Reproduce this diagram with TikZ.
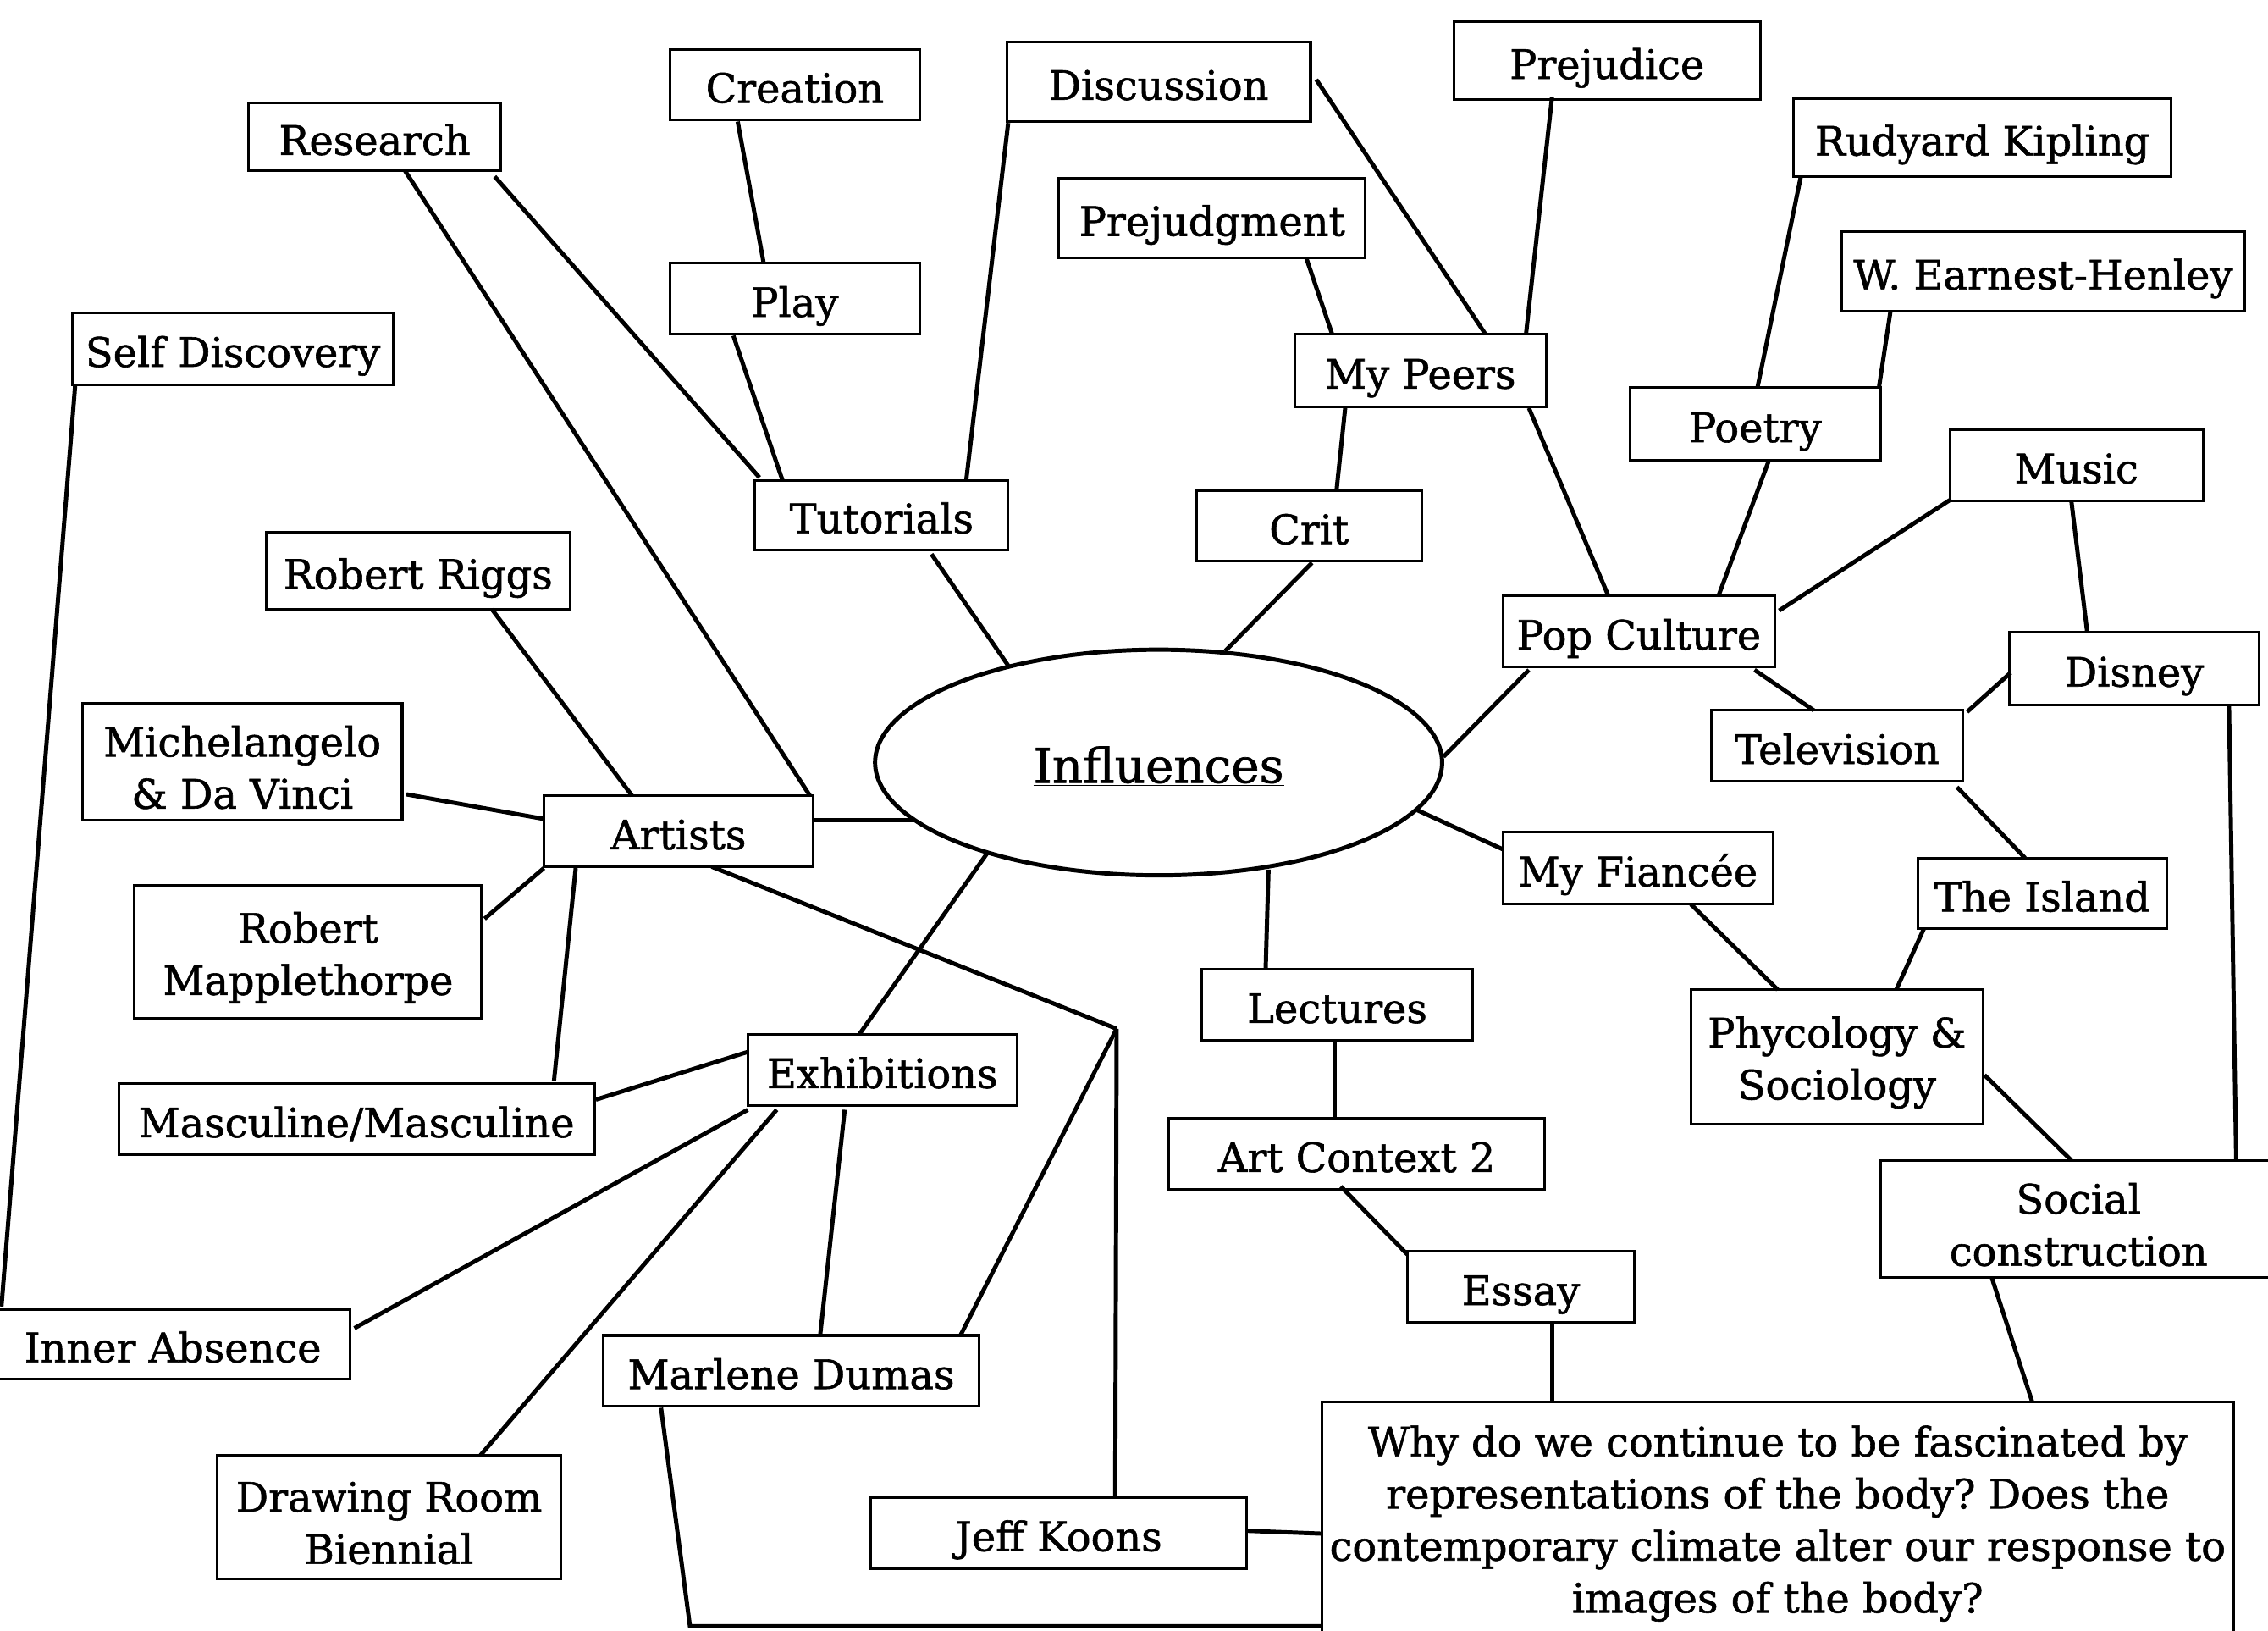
\documentclass[tikz,border=0pt]{standalone}
\usepackage{fontspec}
\setmainfont[FakeBold=1.2]{DejaVu Serif}
\usetikzlibrary{shapes.geometric,calc}
\newcommand\mystrut{\rule{0pt}{29pt}}
\frenchspacing
\begin{document}
\begin{tikzpicture}[x=1pt,y=-1pt,
  box/.style={draw, line width=1.8pt, inner sep=0pt, align=center, font=\fontsize{28}{36}\selectfont},
  b1/.style={box, text height=25.5pt, text depth=0.5pt},
  b2/.style={box},
  link/.style={line width=2.9pt},
]
\useasboundingbox[fill=white] (0,0) rectangle (1568,1127);
\node[b1, minimum width=174pt, minimum height=47pt] (research) at (259,94.5) {Research};
\node[b1, minimum width=173pt, minimum height=49pt] (creation) at (549.5,58.5) {Creation};
\node[b1, minimum width=173pt, minimum height=49pt] (play) at (549.5,206.5) {Play};
\node[b1, minimum width=210pt, minimum height=55pt] (discussion) at (801,56.5) {Discussion};
\node[b1, minimum width=212pt, minimum height=54pt] (prejudice) at (1111,42) {Prejudice};
\node[b1, minimum width=261pt, minimum height=54pt] (kipling) at (1370.5,95) {Rudyard Kipling};
\node[b1, minimum width=279pt, minimum height=55pt] (henley) at (1412.5,187.5) {W. Earnest-Henley};
\node[b1, minimum width=212pt, minimum height=55pt] (prejudgment) at (838,150.5) {Prejudgment};
\node[b1, minimum width=174pt, minimum height=50pt] (peers) at (982,256) {My Peers};
\node[b1, minimum width=173pt, minimum height=50pt] (poetry) at (1213.5,293) {Poetry};
\node[b1, minimum width=175pt, minimum height=49pt] (music) at (1435.5,321.5) {Music};
\node[b1, minimum width=222pt, minimum height=50pt] (self) at (161,241) {Self Discovery};
\node[b1, minimum width=175pt, minimum height=48pt] (tutorials) at (609.5,356) {Tutorials};
\node[b1, minimum width=156pt, minimum height=49pt] (crit) at (905,363.5) {Crit};
\node[b1, minimum width=210pt, minimum height=53pt] (riggs) at (289,394.5) {Robert Riggs};
\node[b1, minimum width=188pt, minimum height=49pt] (pop) at (1133,436.5) {Pop Culture};
\node[b1, minimum width=173pt, minimum height=50pt] (disney) at (1475.5,462) {Disney};
\node[b1, minimum width=174pt, minimum height=49pt] (tv) at (1270,515.5) {Television};
\node[b2, minimum width=221pt, minimum height=81pt] (michel) at (167.5,526.5) {\mystrut Michelangelo\\\& Da Vinci};
\node[b1, minimum width=186pt, minimum height=49pt] (artists) at (469,574.5) {Artists};
\node[b1, minimum width=187pt, minimum height=50pt] (fiancee) at (1132.5,600) {My Fiancée};
\node[b1, minimum width=172pt, minimum height=49pt] (island) at (1412,617.5) {The Island};
\node[b2, minimum width=240pt, minimum height=92pt] (mapple) at (213,658) {\mystrut Robert\\Mapplethorpe};
\node[b1, minimum width=187pt, minimum height=49pt] (lectures) at (924.5,694.5) {Lectures};
\node[b2, minimum width=202pt, minimum height=93pt] (phy) at (1270,730.5) {\mystrut Phycology \&\\Sociology};
\node[b1, minimum width=186pt, minimum height=49pt] (exhib) at (610,739.5) {Exhibitions};
\node[b1, minimum width=329pt, minimum height=49pt] (masc) at (246.5,773.5) {Masculine/Masculine};
\node[b1, minimum width=260pt, minimum height=49pt] (ac2) at (938,797.5) {Art Context 2};
\node[b2, minimum width=274pt, minimum height=81pt] (social) at (1437,842.5) {\mystrut Social\\construction};
\node[b1, minimum width=157pt, minimum height=49pt] (essay) at (1051.5,889.5) {Essay};
\node[b1, minimum width=245pt, minimum height=48pt] (inner) at (119.5,929) {Inner Absence};
\node[b1, minimum width=260pt, minimum height=49pt] (marlene) at (547,947.5) {Marlene Dumas};
\node[b2, minimum width=630pt, minimum height=168pt] (why) at (1229,1053) {Why do we continue to be fascinated by\\representations of the body? Does the\\contemporary climate alter our response to\\images of the body?};
\node[b2, minimum width=238pt, minimum height=85pt] (drawing) at (269,1048.5) {\mystrut Drawing Room\\Biennial};
\node[b1, minimum width=260pt, minimum height=49pt] (koons) at (732,1059.5) {Jeff Koons};
\node[draw, ellipse, line width=2.9pt, minimum width=392pt, minimum height=156pt, inner sep=0pt, text height=32pt, text depth=4pt, font=\fontsize{33}{36}\selectfont] (infl) at (801,527) {\underline{Influences}};
\coordinate (junc) at (772,711);
\coordinate (corner) at (477,1124);

\draw[link] ($(research.center)+(83,27.5)$) -- ($(tutorials.center)+(-84.5,-26)$);
\draw[link] ($(research.center)+(21,23.5)$) -- ($(artists.center)+(91,-24.5)$);
\draw[link] ($(creation.center)+(-39.5,25.5)$) -- ($(play.center)+(-21.5,-24.5)$);
\draw[link] ($(play.center)+(-42.5,25.5)$) -- ($(tutorials.center)+(-68.5,-24)$);
\draw[link] ($(discussion.center)+(-104,28.5)$) -- ($(tutorials.center)+(58.5,-24)$);
\draw[link] ($(discussion.center)+(109,-1.5)$) -- ($(peers.center)+(45,-25)$);
\draw[link] ($(prejudice.center)+(-38,25)$) -- ($(peers.center)+(73,-25)$);
\draw[link] ($(prejudgment.center)+(65,27.5)$) -- ($(peers.center)+(-61,-25)$);
\draw[link] ($(peers.center)+(-52,26)$) -- ($(crit.center)+(19,-24.5)$);
\draw[link] ($(peers.center)+(75,26)$) -- ($(pop.center)+(-21,-24.5)$);
\draw[link] ($(kipling.center)+(-125.5,27)$) -- ($(poetry.center)+(1.5,-25)$);
\draw[link] ($(henley.center)+(-105.5,27.5)$) -- ($(poetry.center)+(85.5,-25)$);
\draw[link] ($(poetry.center)+(9.5,25)$) -- ($(pop.center)+(55,-24.5)$);
\draw[link] ($(music.center)+(-86.5,23.5)$) -- ($(pop.center)+(97,-14.5)$);
\draw[link] ($(music.center)+(-3.5,24.5)$) -- ($(disney.center)+(-32.5,-25)$);
\draw[link] ($(pop.center)+(80,26.5)$) -- ($(tv.center)+(-16,-24.5)$);
\draw[link] ($(pop.center)+(-76,26.5)$) -- ($(infl.center)+(197,-4)$);
\draw[link] ($(tv.center)+(90,-23.5)$) -- ($(disney.center)+(-85.5,3)$);
\draw[link] ($(tv.center)+(83,28.5)$) -- ($(island.center)+(-12,-24.5)$);
\draw[link] ($(disney.center)+(65.5,25)$) -- ($(social.center)+(109,-40.5)$);
\draw[link] ($(island.center)+(-82,24.5)$) -- ($(phy.center)+(41,-46.5)$);
\draw[link] ($(fiancee.center)+(36.5,25)$) -- ($(phy.center)+(-41,-46.5)$);
\draw[link] ($(phy.center)+(102,12.5)$) -- ($(social.center)+(-5,-40.5)$);
\draw[link] ($(social.center)+(-60,40.5)$) -- ($(why.center)+(176,-84)$);
\draw[link] ($(infl.center)+(179,33)$) -- ($(fiancee.center)+(-93.5,-13)$);
\draw[link] ($(infl.center)+(76,74)$) -- ($(lectures.center)+(-49.5,-24.5)$);
\draw[link] ($(lectures.center)+(-1.5,24.5)$) -- ($(ac2.center)+(-15,-24.5)$);
\draw[link] ($(ac2.center)+(-11,22.5)$) -- ($(essay.center)+(-78.5,-22.5)$);
\draw[link] ($(essay.center)+(21.5,24.5)$) -- ($(why.center)+(-156,-84)$);
\draw[link] ($(crit.center)+(2,25.5)$) -- ($(infl.center)+(46,-77)$);
\draw[link] ($(tutorials.center)+(34.5,27)$) -- ($(infl.center)+(-104,-67)$);
\draw[link] ($(artists.center)+(93,-7.5)$) -- ($(infl.center)+(-169,40)$);
\draw[link] ($(infl.center)+(-118,62)$) -- ($(exhib.center)+(-16,-24.5)$);
\draw[link] ($(artists.center)+(23,24.5)$) -- (junc);
\draw[link] (junc) -- ($(koons.center)+(39,-24.5)$);
\draw[link] (junc) -- ($(marlene.center)+(117,-24.5)$);
\draw[link] ($(riggs.center)+(51,26.5)$) -- ($(artists.center)+(-32,-24.5)$);
\draw[link] ($(michel.center)+(113.5,22.5)$) -- ($(artists.center)+(-93,-8.5)$);
\draw[link] ($(mapple.center)+(122,-23)$) -- ($(artists.center)+(-93,25.5)$);
\draw[link] ($(artists.center)+(-71,25.5)$) -- ($(masc.center)+(136.5,-26.5)$);
\draw[link] ($(masc.center)+(165.5,-13.5)$) -- ($(exhib.center)+(-93,-12.5)$);
\draw[link] ($(exhib.center)+(-93,27.5)$) -- ($(inner.center)+(125.5,-11)$);
\draw[link] ($(exhib.center)+(-73,27.5)$) -- ($(drawing.center)+(63,-42.5)$);
\draw[link] ($(exhib.center)+(-26,27.5)$) -- ($(marlene.center)+(20,-24.5)$);
\draw[link] ($(self.center)+(-109,25)$) -- ($(inner.center)+(-118.5,-26)$);
\draw[link] ($(marlene.center)+(-90,25.5)$) -- (corner) -- ($(why.center)+(-315,71)$);
\draw[link] ($(koons.center)+(130,-1.5)$) -- ($(why.center)+(-315,7)$);
\end{tikzpicture}
\end{document}
